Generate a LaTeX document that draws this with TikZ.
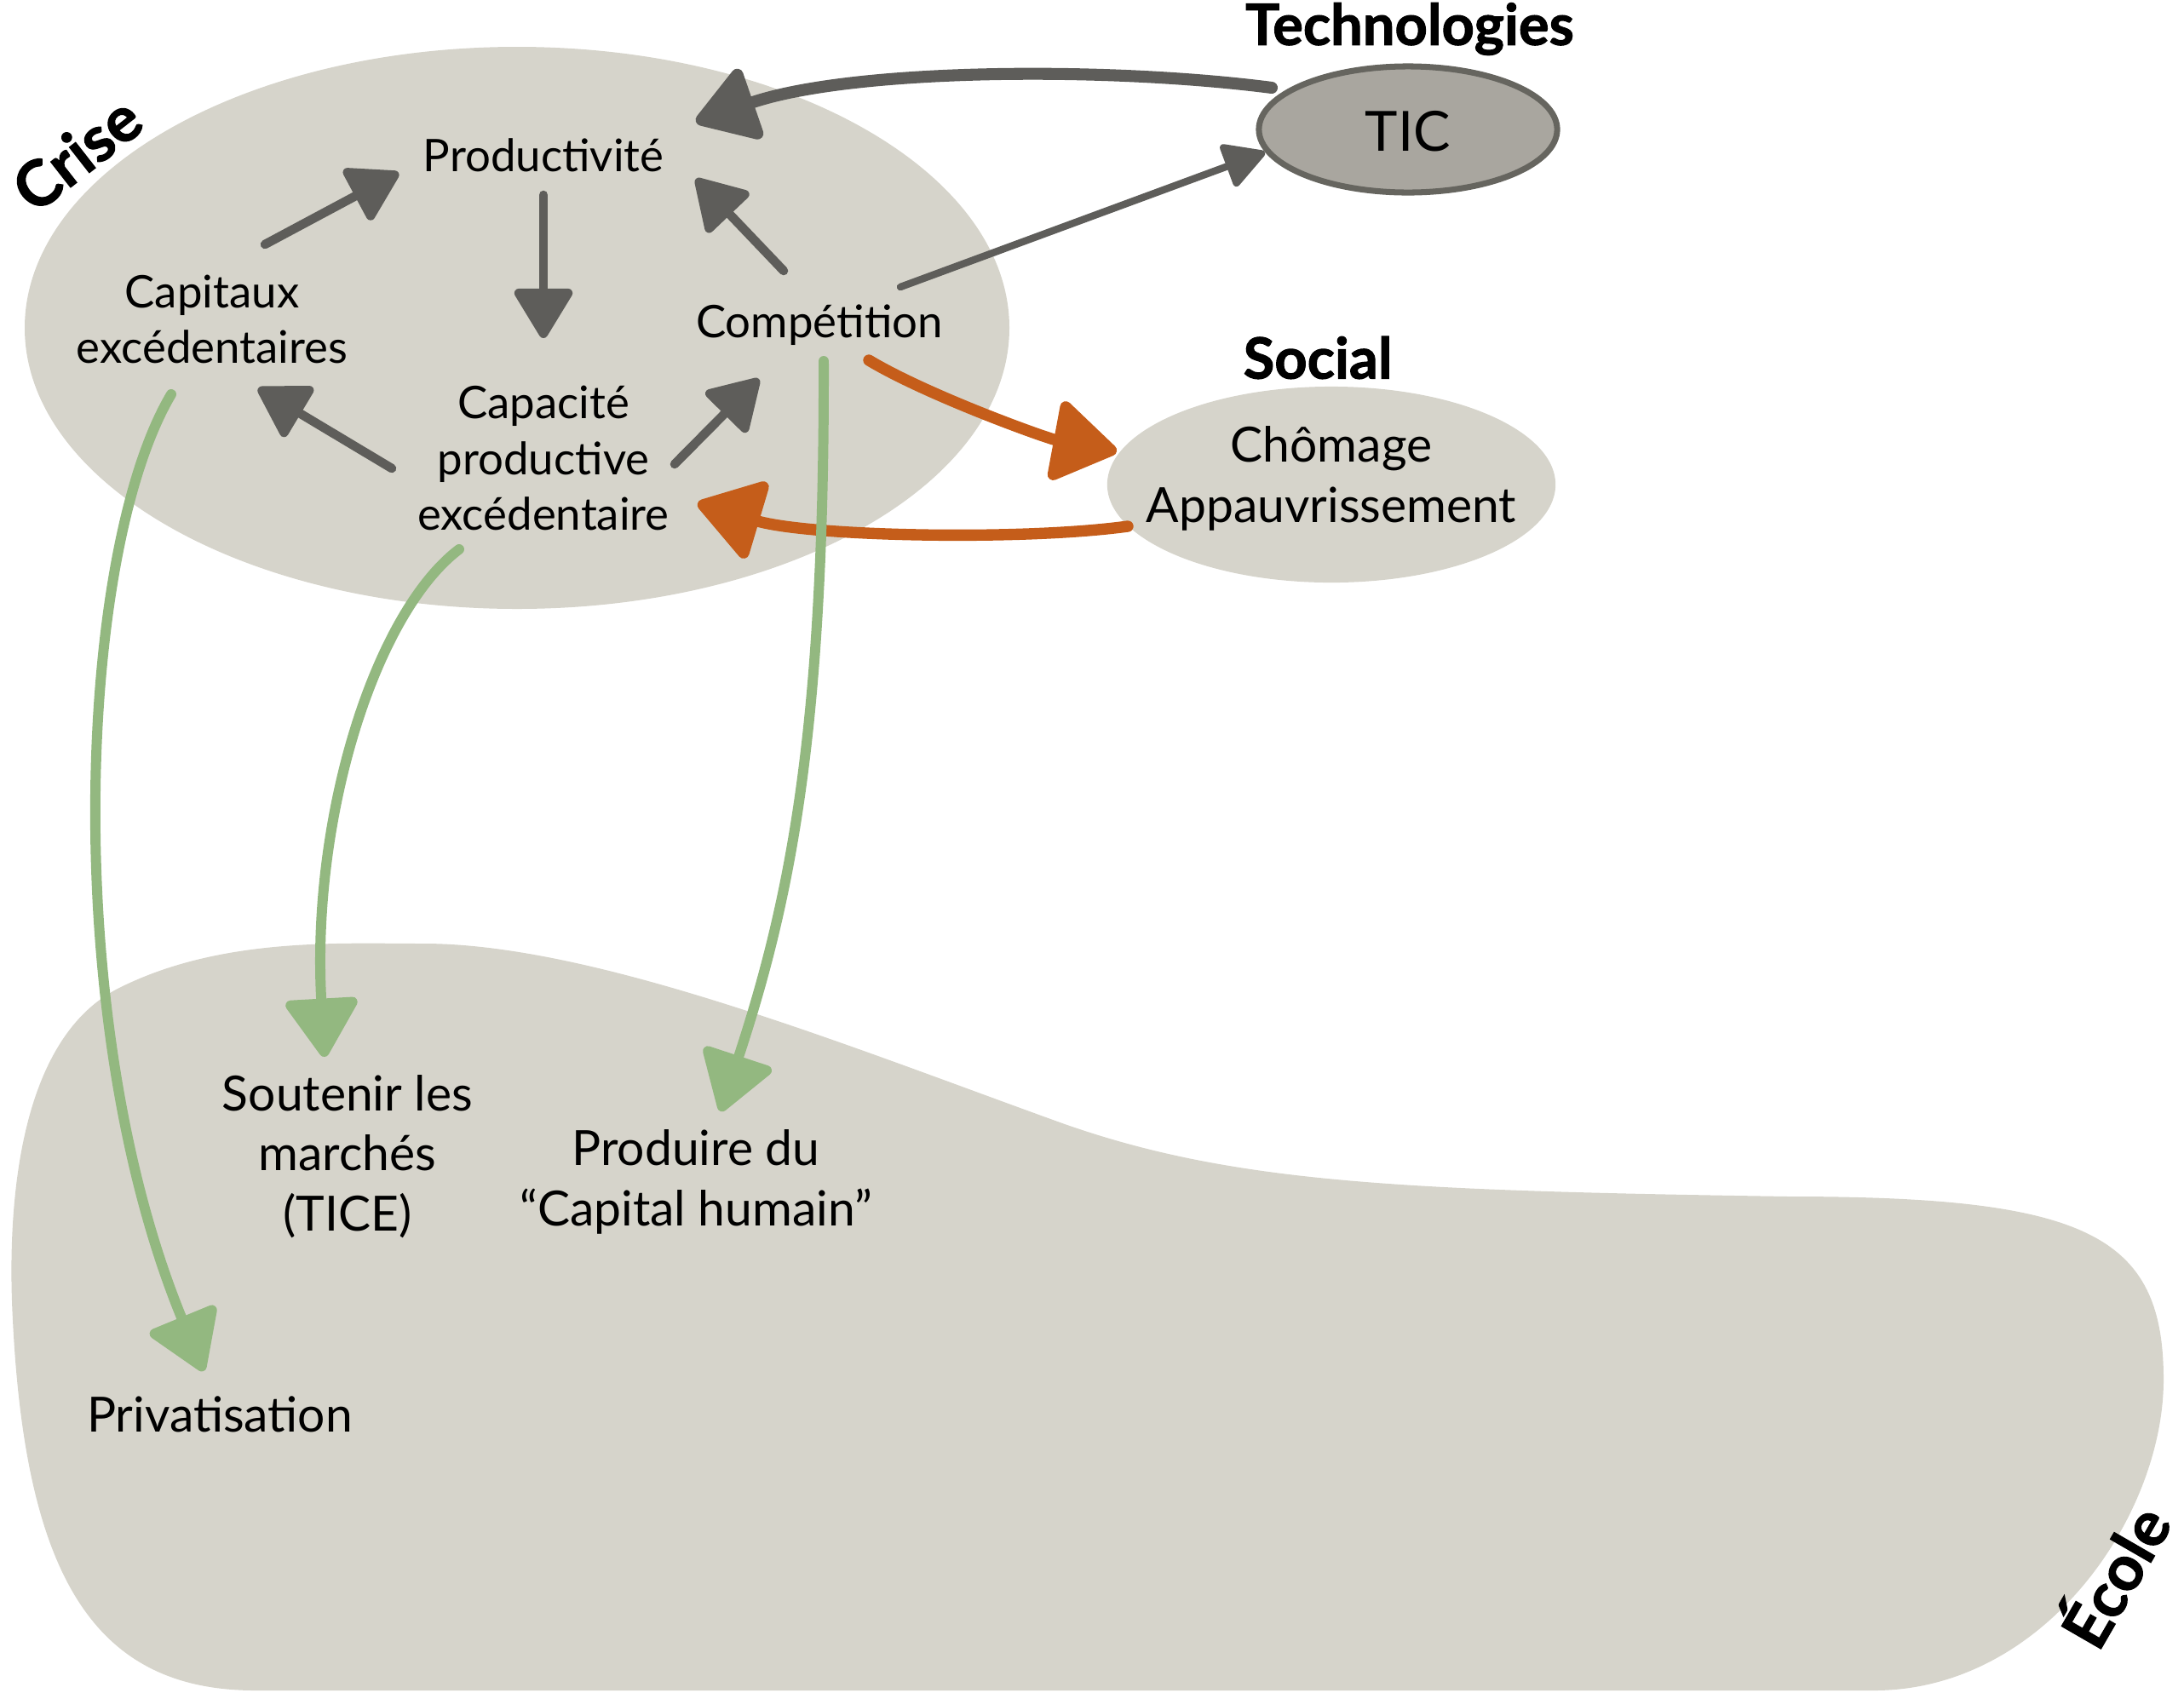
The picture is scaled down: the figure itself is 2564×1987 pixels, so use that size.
\documentclass[tikz,border=0pt]{standalone}
\usepackage{fontspec}
\setmainfont{Lato}
\newfontfamily\heavyfont{Lato}[BoldFeatures={FakeBold=1.5}]
\usetikzlibrary{arrows.meta,shapes.geometric,calc}

\definecolor{blobfill}{HTML}{D6D4CB}
\definecolor{ticfill}{HTML}{A9A69F}
\definecolor{ticline}{HTML}{66655F}
\definecolor{arrgray}{HTML}{5E5D5A}
\definecolor{arrorange}{HTML}{C55D1A}
\definecolor{arrgreen}{HTML}{93B880}

\tikzset{
  txt/.style={font=\fontsize{15}{18.5}\selectfont, align=center, inner sep=0pt, text=black},
  txtbig/.style={txt, font=\fontsize{16.2}{20}\selectfont},
  ttl/.style={font=\heavyfont\fontsize{19}{21}\selectfont\bfseries, inner sep=0pt, text=black},
  grayarr/.style={draw=arrgray, line width=3pt, line cap=round,
    -{Triangle[length=18pt,width=21pt,round]}},
  graybig/.style={draw=arrgray, line width=4pt, line cap=round,
    -{Triangle[length=22pt,width=27pt,round]}},
  graythin/.style={draw=arrgray, line width=2.4pt, line cap=round,
    -{Triangle[length=15pt,width=16pt,round]}},
  orangearr/.style={draw=arrorange, line width=3.8pt, line cap=round,
    -{Triangle[length=23pt,width=29pt,round]}},
  greenarr/.style={draw=arrgreen, line width=3.4pt, line cap=round,
    -{Triangle[length=21pt,width=26pt,round]}},
}

\begin{document}
\begin{tikzpicture}[x=0.01cm,y=-0.01cm]
\useasboundingbox (0,0) rectangle (2564,1987);

% Ecole region
\fill[blobfill] (497,1108)
  .. controls (700,1108) and (1000,1230) .. (1250,1320)
  .. controls (1450,1390) and (1650,1398) .. (2100,1405)
  .. controls (2450,1405) and (2540,1450) .. (2540,1620)
  .. controls (2540,1780) and (2400,1985) .. (2200,1985)
  -- (300,1985)
  .. controls (110,1985) and (30,1850) .. (15,1550)
  .. controls (8,1420) and (20,1220) .. (140,1160)
  .. controls (260,1100) and (400,1108) .. (497,1108) -- cycle;

% Crise region
\fill[blobfill] (607,385) ellipse [x radius=578, y radius=330];

% Social and TIC shapes
\node[ellipse, fill=blobfill, minimum width=5.26cm, minimum height=2.30cm,
      inner sep=0pt] (socell) at (1563,569) {};
\node[ellipse, fill=ticfill, draw=ticline, line width=2pt,
      minimum width=3.50cm, minimum height=1.48cm, inner sep=0pt] (ticell) at (1653,152) {};

% text nodes
\node[txtbig] (soc) at (1563,562) {Chômage\\Appauvrissement};
\node[txt, font=\fontsize{18.5}{20}\selectfont] (tic) at (1653,154) {TIC};
\node[txt] (prod) at (638,182) {Productivité};
\node[txt] (cap) at (249,375) {Capitaux\\excédentaires};
\node[txt] (comp) at (962,382) {Compétition};
\node[txt] (capa) at (638,538) {Capacité\\productive\\excédentaire};
\node[txtbig] (sout) at (408,1358) {Soutenir les\\marchés\\(TICE)};
\node[txtbig] (produ) at (817,1388) {Produire du\\“Capital humain”};
\node[txtbig] (priv) at (258,1661) {Privatisation};

% titles
\node[ttl, font=\heavyfont\fontsize{21}{23}\selectfont\bfseries, rotate=38] (crise) at (90,180) {Crise};
\node[ttl] (techno) at (1655,34) {Technologies};
\node[ttl] (social) at (1547,420) {Social};
\node[ttl, font=\heavyfont\fontsize{21}{23}\selectfont\bfseries, rotate=60] (ecole) at (2478,1848) {École};

% gray arrows
\draw[grayarr] ([shift={(62,-88)}]cap.center) -- ([shift={(-170,21)}]prod.center);
\draw[grayarr] ([shift={(0,47)}]prod.center) -- ([shift={(0,-141)}]capa.center);
\draw[grayarr] ([shift={(-178,12)}]capa.center) -- ([shift={(54,81)}]cap.center);
\draw[grayarr] ([shift={(154,7)}]capa.center) -- ([shift={(-71,63)}]comp.center);
\draw[grayarr] ([shift={(-42,-64)}]comp.center) -- ([shift={(179,28)}]prod.center);
\draw[graybig] ([shift={(-160,-49)}]ticell.center) .. controls (1300,78) and (1000,80) .. ([shift={(179,-39)}]prod.center);
\draw[graythin] ([shift={(95,-45)}]comp.center) -- ([shift={(-168,27)}]ticell.center);

% orange arrows
\draw[orangearr] ([shift={(58,41)}]comp.center) .. controls (1090,465) and (1230,515) .. ([shift={(-252,-39)}]socell.center);
\draw[orangearr] ([shift={(-239,49)}]socell.center) .. controls (1200,635) and (950,630) .. ([shift={(181,53)}]capa.center);

% green arrows
\draw[greenarr] ([shift={(5,42)}]comp.center) .. controls (968,850) and (930,1050) .. ([shift={(29,-83)}]produ.center);
\draw[greenarr] ([shift={(-99,107)}]capa.center) .. controls (440,720) and (365,960) .. ([shift={(-27,-117)}]sout.center);
\draw[greenarr] ([shift={(-48,88)}]cap.center) .. controls (90,650) and (70,1200) .. ([shift={(-19,-51)}]priv.center);
\end{tikzpicture}
\end{document}
